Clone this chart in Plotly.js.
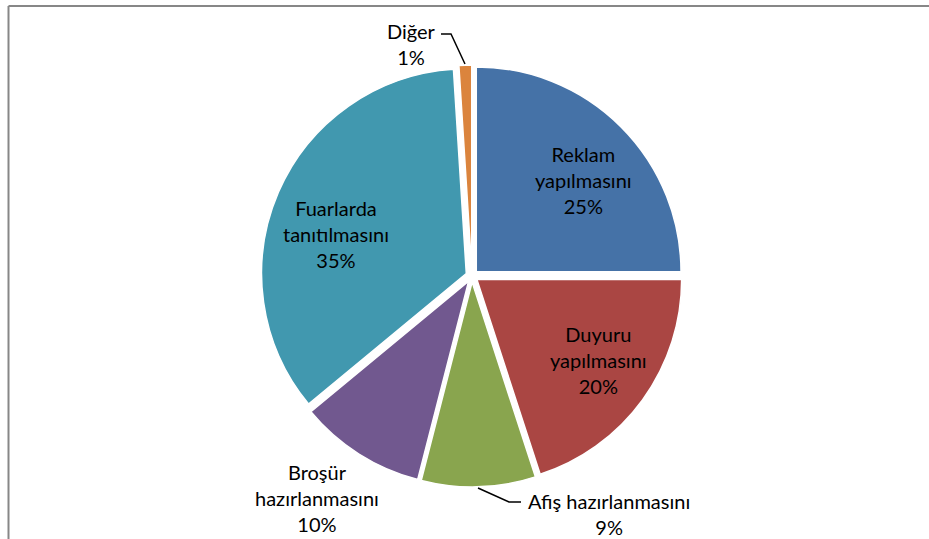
<!DOCTYPE html>
<html>
<head>
<meta charset="utf-8">
<script src="https://cdn.plot.ly/plotly-3.0.1.min.js"></script>
<style>
  html, body { margin: 0; padding: 0; background: #fff; }
  #chart { width: 929px; height: 539px; }
</style>
</head>
<body>
<div id="chart"></div>
<script>
const labels = ['Reklam<br>yapılmasını', 'Duyuru<br>yapılmasını', 'Afiş hazırlanmasını',
                'Broşür<br>hazırlanmasını', 'Fuarlarda<br>tanıtılmasını', 'Diğer'];
const values = [25, 20, 9, 10, 35, 1];
const colors = ['#4572A7', '#AA4643', '#89A54E', '#71588F', '#4198AF', '#DB843D'];

const fontFamily = 'Lato, "Open Sans", sans-serif';
const fontSize = 20;
const W = 929, H = 539;

// label centres in pixels, one per slice (same order as labels)
const labelCentres = [[583, 180], [598, 360], [609, 514], [317, 498], [336, 234], [411, 44]];

const px = x => x / W;
const py = y => 1 - y / H;

function labelText(i) {
    return labels[i] + '<br>' + values[i] + '%';
}

function drawChart() {
    const pie = {
        type: 'pie',
        labels: labels,
        values: values,
        sort: false,
        direction: 'clockwise',
        rotation: 0,
        pull: 0.03,
        marker: { colors: colors, line: { color: '#ffffff', width: 1.5 } },
        textinfo: 'none',
        hoverinfo: 'label+percent',
        domain: { x: [0.281, 0.735], y: [0.0965, 0.8794] },
        showlegend: false
    };

    const annotations = labels.map((l, i) => ({
        text: labelText(i),
        x: px(labelCentres[i][0]), y: py(labelCentres[i][1]),
        xref: 'paper', yref: 'paper', xanchor: 'center', yanchor: 'middle',
        showarrow: false,
        font: { family: fontFamily, size: fontSize, color: '#000' }
    }));

    // leader lines for Diğer and Afiş
    const leader = pts => 'M ' + pts.map(p => px(p[0]) + ',' + py(p[1])).join(' L ');
    const border = { color: '#878787', width: 2 };

    const layout = {
        width: W,
        height: H,
        margin: { l: 0, r: 0, t: 0, b: 0 },
        paper_bgcolor: '#ffffff',
        annotations: annotations,
        shapes: [
            { type: 'path', xref: 'paper', yref: 'paper', path: leader([[441, 34], [451, 34], [465, 64]]),
              line: { color: '#000', width: 1.5 } },
            { type: 'path', xref: 'paper', yref: 'paper', path: leader([[478, 488], [509, 502], [521, 502]]),
              line: { color: '#000', width: 1.5 } },
            { type: 'line', xref: 'paper', yref: 'paper', x0: px(8.5), x1: 1, y0: py(6), y1: py(6), line: border },
            { type: 'line', xref: 'paper', yref: 'paper', x0: px(8.5), x1: px(8.5), y0: 0, y1: py(6), line: border }
        ]
    };

    Plotly.newPlot('chart', [pie], layout, { displayModeBar: false, staticPlot: true });
}

document.addEventListener('DOMContentLoaded', drawChart);
</script>
</body>
</html>
